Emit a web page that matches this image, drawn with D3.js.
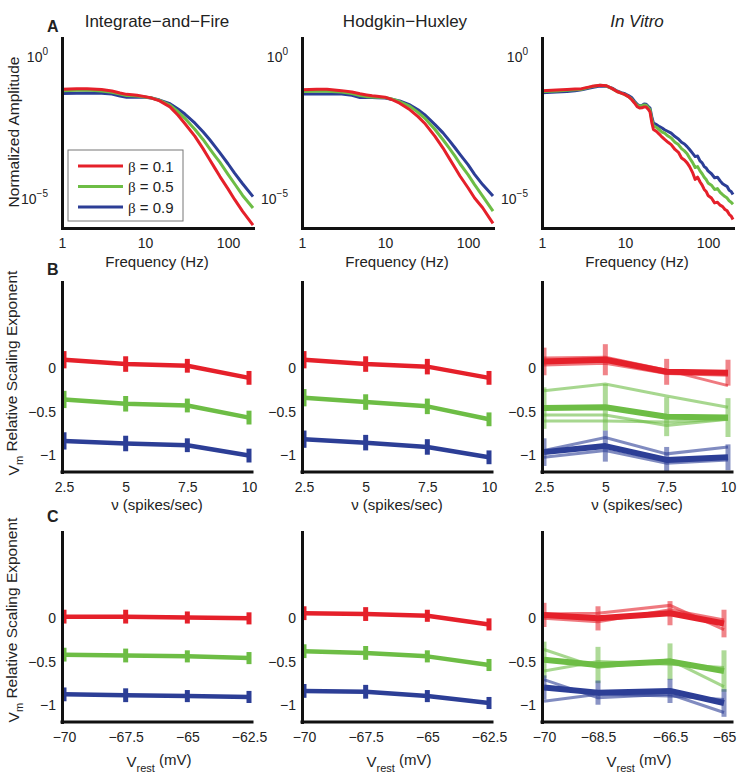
<!DOCTYPE html>
<html>
<head>
<meta charset="utf-8">
<script src="https://cdn.jsdelivr.net/npm/d3@7"></script>
<style>
  body { margin: 0; background: #fff; }
  text { font-family: "Liberation Sans", Arial, sans-serif; fill: #222; }
</style>
</head>
<body>
<div id="chart"></div>
<script>
// ---- data (log10 amplitude for row A) ----
var freqModel = [1, 1.5, 2, 3, 4, 5, 6, 7, 8, 10, 12, 15, 20, 25, 30, 40, 50, 60, 70, 80, 100, 120, 150, 200];
var ifRed   = [-1.14, -1.12, -1.12, -1.15, -1.20, -1.27, -1.32, -1.33, -1.35, -1.40, -1.45, -1.55, -1.76, -2.05, -2.33, -2.79, -3.22, -3.60, -3.92, -4.20, -4.63, -5.00, -5.42, -5.90];
var ifGreen = [-1.19, -1.18, -1.17, -1.20, -1.25, -1.31, -1.36, -1.37, -1.38, -1.41, -1.45, -1.53, -1.70, -1.93, -2.15, -2.55, -2.90, -3.22, -3.48, -3.70, -4.12, -4.45, -4.86, -5.30];
var ifBlue  = [-1.29, -1.28, -1.27, -1.28, -1.31, -1.38, -1.42, -1.42, -1.42, -1.42, -1.45, -1.52, -1.65, -1.83, -2.00, -2.33, -2.63, -2.90, -3.15, -3.37, -3.75, -4.08, -4.45, -4.90];
var hhRed   = [-1.16, -1.14, -1.14, -1.19, -1.24, -1.30, -1.34, -1.37, -1.39, -1.42, -1.50, -1.63, -1.86, -2.10, -2.33, -2.79, -3.20, -3.58, -3.90, -4.18, -4.59, -4.95, -5.29, -5.84];
var hhGreen = [-1.22, -1.21, -1.21, -1.24, -1.29, -1.36, -1.40, -1.41, -1.42, -1.43, -1.48, -1.57, -1.74, -1.95, -2.15, -2.55, -2.91, -3.22, -3.49, -3.75, -4.13, -4.48, -4.88, -5.41];
var hhBlue  = [-1.31, -1.31, -1.31, -1.31, -1.35, -1.43, -1.43, -1.43, -1.44, -1.45, -1.49, -1.55, -1.69, -1.86, -2.03, -2.38, -2.67, -2.95, -3.20, -3.42, -3.78, -4.12, -4.48, -4.88];

var freqVitro = [1, 1.5, 2, 2.5, 3, 4, 5, 6, 7, 8, 9, 10, 11, 12, 13, 14, 15, 16, 17, 18, 19, 20, 21, 22, 24, 26, 28, 30, 33, 36, 40, 44, 48, 52, 56, 60, 65, 70, 75, 80, 85, 90, 95, 100, 110, 120, 130, 140, 150, 160, 170, 180, 190, 200];
var vitroRed   = [-1.19, -1.17, -1.15, -1.13, -1.12, -1.04, -1.00, -1.02, -1.12, -1.22, -1.28, -1.33, -1.40, -1.50, -1.62, -1.75, -1.80, -1.79, -1.76, -1.76, -1.84, -1.93, -2.30, -2.55, -2.62, -2.72, -2.82, -2.90, -3.00, -3.08, -3.25, -3.35, -3.55, -3.62, -3.72, -3.85, -4.05, -4.30, -4.22, -4.38, -4.50, -4.65, -4.72, -4.86, -4.95, -5.12, -5.10, -5.20, -5.25, -5.35, -5.40, -5.52, -5.58, -5.70];
var vitroGreen = [-1.22, -1.20, -1.18, -1.16, -1.14, -1.05, -1.00, -1.03, -1.12, -1.22, -1.28, -1.33, -1.40, -1.48, -1.60, -1.70, -1.74, -1.72, -1.69, -1.70, -1.78, -1.86, -2.20, -2.42, -2.48, -2.56, -2.64, -2.68, -2.78, -2.85, -3.00, -3.08, -3.22, -3.30, -3.40, -3.55, -3.70, -3.88, -3.85, -4.00, -4.10, -4.22, -4.30, -4.42, -4.50, -4.65, -4.62, -4.75, -4.83, -4.90, -4.95, -5.05, -5.10, -5.17];
var vitroBlue  = [-1.26, -1.24, -1.22, -1.19, -1.16, -1.08, -1.03, -1.04, -1.10, -1.20, -1.26, -1.30, -1.36, -1.43, -1.56, -1.67, -1.72, -1.71, -1.66, -1.67, -1.74, -1.80, -2.10, -2.33, -2.38, -2.45, -2.50, -2.56, -2.62, -2.68, -2.80, -2.88, -3.00, -3.06, -3.15, -3.25, -3.38, -3.50, -3.48, -3.65, -3.72, -3.85, -3.90, -4.00, -4.10, -4.24, -4.22, -4.35, -4.45, -4.50, -4.55, -4.68, -4.72, -4.83];

// ---- row B: firing rate ----
var rates = [2.5, 5, 7.5, 10];
var bIfRed = [0.10, 0.05, 0.03, -0.11], bIfGreen = [-0.36, -0.41, -0.43, -0.57], bIfBlue = [-0.84, -0.87, -0.89, -1.01];
var bIfErr = [0.10, 0.09, 0.08, 0.08];
var bHhRed = [0.10, 0.05, 0.02, -0.11], bHhGreen = [-0.34, -0.39, -0.44, -0.59], bHhBlue = [-0.82, -0.86, -0.91, -1.03];
var bHhErr = [0.10, 0.09, 0.09, 0.08];
var bVitroRed   = [[0.08, 0.10, -0.04, -0.05], [0.12, 0.13, -0.02, -0.20], [0.04, 0.06, -0.06, -0.08]];
var bVitroGreen = [[-0.46, -0.45, -0.56, -0.57], [-0.26, -0.18, -0.32, -0.45], [-0.54, -0.54, -0.66, -0.59], [-0.61, -0.61, -0.62, -0.59]];
var bVitroBlue  = [[-0.97, -0.90, -1.06, -1.03], [-0.95, -0.80, -0.99, -0.91], [-1.03, -0.95, -1.10, -1.06]];
var bVitroErr = [0.16, 0.18, 0.15, 0.15];

// ---- row C: resting potential ----
var vrestModel = [-70, -67.5, -65, -62.5];
var vrestVitro = [-70, -68.5, -66.5, -65];
var cIfRed = [0.02, 0.02, 0.01, 0.00], cIfGreen = [-0.42, -0.43, -0.44, -0.46], cIfBlue = [-0.88, -0.89, -0.90, -0.91];
var cIfErr = [0.08, 0.08, 0.07, 0.07];
var cHhRed = [0.06, 0.05, 0.03, -0.07], cHhGreen = [-0.38, -0.40, -0.44, -0.54], cHhBlue = [-0.84, -0.85, -0.90, -0.98];
var cHhErr = [0.08, 0.08, 0.07, 0.07];
var cVitroRed   = [[0.04, 0.00, 0.06, -0.06], [0.05, 0.06, 0.15, -0.13], [0.00, -0.04, 0.10, -0.02]];
var cVitroGreen = [[-0.48, -0.54, -0.50, -0.61], [-0.36, -0.57, -0.48, -0.79], [-0.61, -0.50, -0.53, -0.57]];
var cVitroBlue  = [[-0.80, -0.86, -0.84, -0.98], [-0.71, -0.92, -0.88, -1.09], [-0.96, -0.88, -0.90, -0.94]];
var cVitroErr = [0.14, 0.14, 0.14, 0.16];

var betas = ["0.1", "0.5", "0.9"];
var colors = ["#e5202a", "#6dbd45", "#2c3e96"];

var W = 738, H = 779;
var cols = [62, 302, 542];
var pw = 190;
var rowA = [38, 228], rowB = [282, 472], rowC = [532, 722];

var svg = d3.select("#chart").append("svg").attr("width", W).attr("height", H);

function styleAxis(g) {
  g.attr("font-family", "Liberation Sans, Arial, sans-serif").attr("font-size", 14);
  g.select(".domain").attr("stroke", "#111").attr("stroke-width", 3).attr("stroke-linecap", "square");
  g.selectAll(".tick line").remove();
  g.selectAll(".tick text").attr("fill", "#222");
}

// ---- row A ----
function spectrumPanel(x0, freqs, series) {
  var x = d3.scaleLog().domain([1, 200]).range([x0, x0 + 191]);
  var y = d3.scaleLog().domain([1e-6, 4.5]).range([rowA[1], rowA[0]]);
  var line = d3.line()
    .x(function(d) { return x(d[0]); })
    .y(function(d) { return y(Math.pow(10, d[1])); });
  series.slice().reverse().forEach(function(s, i) {
    var pts = freqs.map(function(f, j) { return [f, s[j]]; });
    svg.append("path").attr("d", line(pts)).attr("fill", "none")
      .attr("stroke", colors[2 - i]).attr("stroke-width", 3).attr("stroke-linejoin", "round");
  });
  var gx = svg.append("g").attr("transform", "translate(0," + rowA[1] + ")")
    .call(d3.axisBottom(x).tickValues([1, 10, 100]).tickFormat(d3.format("d")).tickSize(0).tickSizeOuter(0).tickPadding(10));
  styleAxis(gx);
  var gy = svg.append("g").attr("transform", "translate(" + x0 + ",0)")
    .call(d3.axisLeft(y).tickValues([1e-5, 1]).tickSize(0).tickSizeOuter(0).tickPadding(14).tickFormat(function() { return ""; }));
  styleAxis(gy);
  gy.selectAll(".tick text").each(function(d) {
    var t = d3.select(this);
    t.append("tspan").text("10");
    t.append("tspan").attr("font-size", 10).attr("dy", "-0.7em").text(d === 1 ? "0" : "\u22125");
  });
}

spectrumPanel(cols[0], freqModel, [ifRed, ifGreen, ifBlue]);
spectrumPanel(cols[1], freqModel, [hhRed, hhGreen, hhBlue]);
spectrumPanel(cols[2], freqVitro, [vitroRed, vitroGreen, vitroBlue]);

// ---- rows B, C ----
function exponentPanel(x0, row, xs, groups, err, vitro, xticks, endPad) {
  var x = d3.scaleLinear().domain([xs[0], xs[3]]).range([x0 + 2, x0 + pw - endPad]);
  var y = d3.scaleLinear().domain([-1.2, 1]).range([row[1], row[0]]);
  var line = d3.line().x(function(d, i) { return x(xs[i]); }).y(function(d) { return y(d); });
  groups.forEach(function(g, gi) {
    var c = colors[gi];
    var lines = vitro ? g : [g];
    var mean = lines[0];
    var k = vitro && gi === 1 ? 1.5 : 1;
    // error bars
    svg.append("g").selectAll("line").data(mean).enter().append("line")
      .attr("x1", function(d, i) { return x(xs[i]); })
      .attr("x2", function(d, i) { return x(xs[i]); })
      .attr("y1", function(d, i) { return y(d - err[i] * k); })
      .attr("y2", function(d, i) { return y(d + err[i] * k); })
      .attr("stroke", c).attr("stroke-width", 5)
      .attr("opacity", vitro ? 0.55 : 1);
    if (vitro) {
      lines.slice(1).forEach(function(l) {
        svg.append("path").attr("d", line(l)).attr("fill", "none")
          .attr("stroke", c).attr("stroke-width", 3).attr("opacity", 0.6);
      });
    }
    svg.append("path").attr("d", line(mean)).attr("fill", "none")
      .attr("stroke", c).attr("stroke-width", vitro ? 6 : 4.5).attr("stroke-linejoin", "round");
  });
  var gx = svg.append("g").attr("transform", "translate(0," + row[1] + ")")
    .call(d3.axisBottom(x).tickValues(xticks).tickFormat(d3.format("~g")).tickSize(0).tickSizeOuter(0).tickPadding(10));
  styleAxis(gx);
  gx.select(".domain").attr("d", "M" + x0 + ",0H" + (x0 + pw));
  var gy = svg.append("g").attr("transform", "translate(" + x0 + ",0)")
    .call(d3.axisLeft(y).tickValues([-1, -0.5, 0]).tickFormat(d3.format("~g")).tickSize(0).tickSizeOuter(0).tickPadding(6));
  styleAxis(gy);
}

exponentPanel(cols[0], rowB, rates, [bIfRed, bIfGreen, bIfBlue], bIfErr, false, rates, 3);
exponentPanel(cols[1], rowB, rates, [bHhRed, bHhGreen, bHhBlue], bHhErr, false, rates, 3);
exponentPanel(cols[2], rowB, rates, [bVitroRed, bVitroGreen, bVitroBlue], bVitroErr, true, rates, 4);
exponentPanel(cols[0], rowC, vrestModel, [cIfRed, cIfGreen, cIfBlue], cIfErr, false, vrestModel, 3);
exponentPanel(cols[1], rowC, vrestModel, [cHhRed, cHhGreen, cHhBlue], cHhErr, false, vrestModel, 3);
exponentPanel(cols[2], rowC, vrestVitro, [cVitroRed, cVitroGreen, cVitroBlue], cVitroErr, true, vrestVitro, 8);

// ---- legend ----
var leg = svg.append("g");
leg.append("rect").attr("x", 68).attr("y", 150).attr("width", 115).attr("height", 71)
  .attr("fill", "#fff").attr("stroke", "#777").attr("stroke-width", 1);
betas.forEach(function(b, i) {
  var yy = 166 + i * 20.5;
  leg.append("line").attr("x1", 78).attr("x2", 123).attr("y1", yy).attr("y2", yy)
    .attr("stroke", colors[i]).attr("stroke-width", 3);
  var t = leg.append("text").attr("x", 128).attr("y", yy + 5.5).attr("font-size", 15);
  t.append("tspan").attr("font-family", "Liberation Serif, serif").text("\u03b2");
  t.append("tspan").text(" = " + b);
});

// ---- titles, letters, axis labels ----
var titles = [["Integrate\u2212and\u2212Fire", 157, "normal"], ["Hodgkin\u2212Huxley", 405, "normal"], ["In Vitro", 637, "italic"]];
titles.forEach(function(t) {
  svg.append("text").attr("x", t[1]).attr("y", 27).attr("text-anchor", "middle")
    .attr("font-size", 17).attr("font-style", t[2]).text(t[0]);
});
[["A", 32], ["B", 275], ["C", 522]].forEach(function(l) {
  svg.append("text").attr("x", 47).attr("y", l[1]).attr("font-size", 16).attr("font-weight", "bold").text(l[0]);
});

svg.append("text").attr("transform", "translate(19,132) rotate(-90)").attr("text-anchor", "middle")
  .attr("font-size", 15.5).text("Normalized Amplitude");
[373, 620].forEach(function(cy) {
  var t = svg.append("text").attr("transform", "translate(19," + cy + ") rotate(-90)").attr("text-anchor", "middle")
    .attr("font-size", 15.5);
  t.append("tspan").text("V");
  t.append("tspan").attr("font-size", 11).attr("dy", "0.35em").text("m");
  t.append("tspan").attr("dy", "-0.35em").text(" Relative Scaling Exponent");
});

cols.forEach(function(x0) {
  svg.append("text").attr("x", x0 + 95).attr("y", 267).attr("text-anchor", "middle").attr("font-size", 15).text("Frequency (Hz)");
  svg.append("text").attr("x", x0 + 95).attr("y", 510).attr("text-anchor", "middle").attr("font-size", 15)
    .text("\u03bd (spikes/sec)");
  var t = svg.append("text").attr("x", x0 + 97).attr("y", 767).attr("text-anchor", "middle").attr("font-size", 15);
  t.append("tspan").text("V");
  t.append("tspan").attr("font-size", 11).attr("dy", "0.45em").text("rest");
  t.append("tspan").attr("dy", "-0.45em").text(" (mV)");
});
</script>
</body>
</html>
